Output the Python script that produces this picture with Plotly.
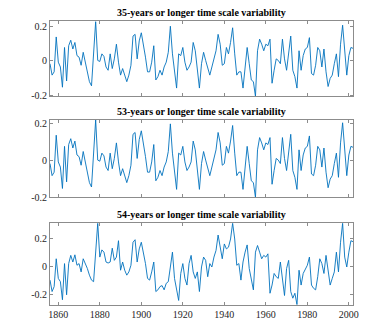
import plotly.graph_objects as go
from plotly.subplots import make_subplots

# yearly filtered anomalies
start_year = 1856

var_35 = [
    -0.017, -0.083, -0.064, 0.138, -0.008, -0.036, -0.153, 0.077, -0.117, 0.087,
    0.119, 0.068, 0.106, 0.030, 0.021, -0.026, 0.049, -0.008, -0.064, -0.121,
    -0.145, 0.040, 0.228, 0.002, -0.004, 0.040, 0.025, -0.036, -0.055, 0.040,
    -0.045, 0.011, 0.096, -0.008, -0.083, -0.045, -0.083, -0.121, -0.083, -0.026,
    0.143, 0.153, 0.011, 0.115, 0.162, 0.096, 0.021, -0.064, -0.064, -0.008,
    0.087, -0.111, -0.092, -0.055, -0.083, -0.036, -0.008, 0.049, 0.200, 0.040,
    -0.064, -0.158, 0.040, 0.030, 0.077, -0.008, -0.055, -0.036, -0.008, 0.106,
    0.058, -0.064, -0.158, -0.017, 0.049, 0.002, -0.045, -0.083, -0.036, 0.011,
    0.058, 0.153, 0.096, -0.026, -0.017, 0.077, 0.040, 0.106, 0.191, 0.040,
    -0.083, -0.064, -0.064, -0.158, -0.036, 0.077, -0.017, -0.111, -0.121, -0.206,
    0.058, 0.125, 0.096, 0.058, 0.096, 0.087, 0.125, -0.130, -0.055, 0.011,
    0.002, -0.017, 0.125, 0.011, -0.055, 0.049, 0.143, -0.055, -0.092, -0.158,
    0.058, -0.055, 0.030, 0.068, 0.077, 0.134, -0.074, -0.083, -0.026, 0.077,
    0.058, -0.036, 0.068, -0.064, -0.149, -0.102, -0.083, -0.017, 0.040, -0.092,
    0.096, 0.206, 0.030, -0.083, 0.030, 0.077, 0.072,
]

# the 53-year panel is practically the same curve as the 35-year one
var_53 = [
    -0.017, -0.083, -0.064, 0.138, -0.008, -0.036, -0.153, 0.077, -0.117, 0.087,
    0.119, 0.068, 0.106, 0.030, 0.021, -0.026, 0.049, -0.008, -0.064, -0.121,
    -0.145, 0.040, 0.222, 0.002, -0.004, 0.040, 0.025, -0.036, -0.055, 0.040,
    -0.045, 0.011, 0.096, -0.008, -0.083, -0.045, -0.083, -0.121, -0.083, -0.026,
    0.143, 0.153, 0.011, 0.115, 0.162, 0.096, 0.021, -0.064, -0.064, -0.008,
    0.087, -0.111, -0.092, -0.055, -0.083, -0.036, -0.008, 0.049, 0.200, 0.040,
    -0.064, -0.158, 0.040, 0.030, 0.077, -0.008, -0.055, -0.036, -0.008, 0.106,
    0.058, -0.064, -0.158, -0.017, 0.049, 0.002, -0.045, -0.083, -0.036, 0.011,
    0.058, 0.153, 0.096, -0.026, -0.017, 0.077, 0.040, 0.106, 0.191, 0.040,
    -0.083, -0.064, -0.064, -0.158, -0.036, 0.077, -0.017, -0.111, -0.121, -0.202,
    0.058, 0.125, 0.096, 0.058, 0.096, 0.087, 0.125, -0.130, -0.055, 0.011,
    0.002, -0.017, 0.125, 0.011, -0.055, 0.049, 0.143, -0.055, -0.092, -0.158,
    0.058, -0.055, 0.030, 0.068, 0.077, 0.134, -0.074, -0.083, -0.026, 0.077,
    0.058, -0.036, 0.068, -0.064, -0.149, -0.102, -0.083, -0.017, 0.040, -0.092,
    0.096, 0.206, 0.030, -0.083, 0.030, 0.077, 0.072,
]

var_54 = [
    -0.098, -0.179, -0.144, 0.053, -0.086, -0.109, -0.237, 0.019, -0.202, 0.019,
    0.077, 0.030, 0.081, 0.007, 0.019, -0.040, 0.053, 0.019, -0.016, -0.063,
    -0.098, -0.109, 0.123, 0.305, 0.065, 0.116, 0.100, 0.030, 0.023, 0.030,
    0.128, 0.042, 0.065, 0.181, -0.028, 0.030, -0.028, -0.063, -0.040, 0.007,
    0.170, 0.188, 0.030, 0.123, 0.170, 0.100, 0.019, -0.086, -0.098, -0.040,
    0.030, -0.179, -0.167, -0.144, -0.137, -0.167, -0.121, -0.109, -0.016, 0.100,
    -0.086, -0.167, -0.242, -0.051, 0.019, -0.086, -0.133, 0.019, 0.077, -0.040,
    -0.086, -0.040, -0.179, -0.005, 0.065, 0.042, -0.074, 0.019, -0.005, 0.065,
    0.112, 0.221, 0.123, 0.053, 0.158, 0.123, 0.135, 0.193, 0.305, 0.193,
    0.007, 0.019, -0.098, 0.030, 0.100, 0.151, -0.016, -0.086, -0.167, 0.100,
    0.147, 0.100, 0.053, 0.077, 0.065, 0.088, -0.191, -0.133, -0.051, -0.074,
    -0.086, 0.030, -0.098, -0.207, -0.016, 0.042, -0.179, -0.226, -0.191, -0.272,
    -0.028, -0.133, -0.051, -0.016, 0.007, 0.065, -0.133, -0.156, -0.167, -0.074,
    0.053, 0.019, -0.051, 0.077, -0.016, -0.133, -0.086, -0.040, 0.100, -0.040,
    0.170, 0.305, 0.065, -0.005, 0.100, 0.181, 0.174,
]

titles = [
    "35-years or longer time scale variability",
    "53-years or longer time scale variability",
    "54-years or longer time scale variability",
]
series = [var_35, var_53, var_54]

x_ticks = [1860, 1880, 1900, 1920, 1940, 1960, 1980, 2000]
y_ticks = [-0.2, 0, 0.2]
y_labels = ["-0.2", "0", "0.2"]

line_color = "#0072BD"
axis_color = "#8c8c8c"
font_family = "Liberation Serif, Times New Roman, serif"

fig = make_subplots(rows=3, cols=1)

# panel placement in paper coordinates (page has an 8px body margin)
domains = [[0.732, 0.962], [0.422, 0.660], [0.093, 0.343]]

for i, (vals, title) in enumerate(zip(series, titles)):
    years = list(range(start_year, start_year + len(vals)))
    fig.add_trace(
        go.Scatter(x=years, y=vals, mode="lines", line=dict(color=line_color, width=0.9), showlegend=False),
        row=i + 1,
        col=1,
    )
    fig.update_xaxes(
        range=[1856, 2002],
        tickvals=x_ticks,
        showticklabels=(i == 2),
        ticks="inside",
        ticklen=3,
        tickcolor=axis_color,
        showline=True,
        linecolor=axis_color,
        linewidth=1,
        mirror="ticks",
        showgrid=False,
        zeroline=False,
        row=i + 1,
        col=1,
    )
    fig.update_yaxes(
        range=[min(vals), max(vals)],
        tickvals=y_ticks,
        ticktext=y_labels,
        ticks="inside",
        ticklen=3,
        tickcolor=axis_color,
        showline=True,
        linecolor=axis_color,
        linewidth=1,
        mirror="ticks",
        showgrid=False,
        zeroline=False,
        domain=domains[i],
        row=i + 1,
        col=1,
    )
    fig.add_annotation(
        text="<b>" + title + "</b>",
        xref="paper",
        yref="paper",
        x=0.5,
        y=domains[i][1],
        yanchor="bottom",
        yshift=2,
        borderpad=0,
        showarrow=False,
        font=dict(family=font_family, size=10, color="#000000"),
    )

fig.update_layout(
    width=390,
    height=332,
    margin=dict(l=42, r=45, t=0, b=0),
    paper_bgcolor="white",
    plot_bgcolor="white",
    font=dict(family=font_family, size=10, color="#262626"),
)

fig.write_html("out.html")
